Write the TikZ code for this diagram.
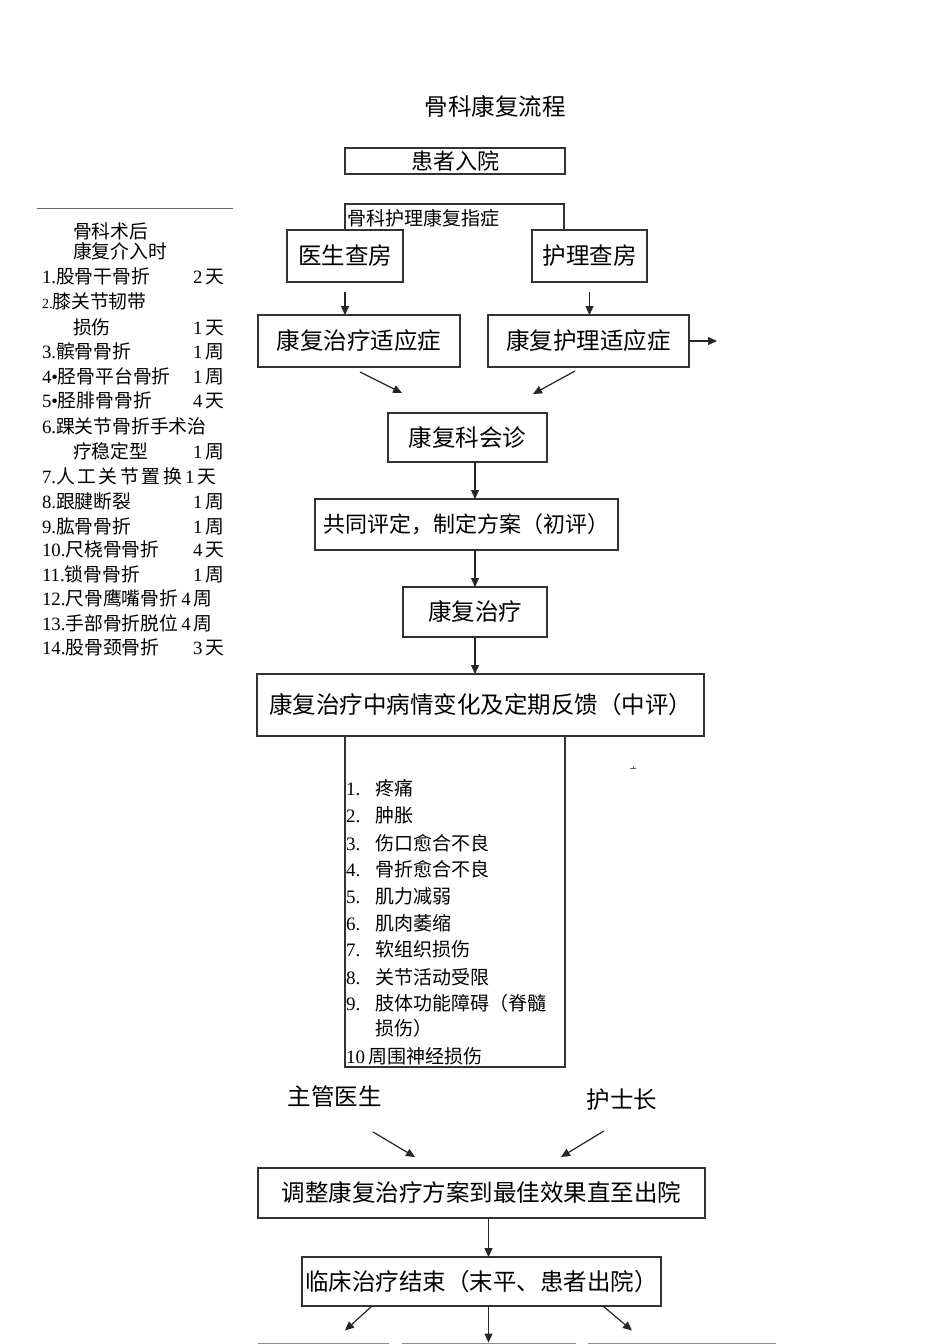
\documentclass[tikz,border=0pt]{standalone}
\usepackage{fontspec}
\setmainfont{Noto Sans CJK SC}
\newfontfamily\lat{Liberation Serif}
\usetikzlibrary{arrows.meta,calc}
\tikzset{
  bx/.style={draw=black!80, line width=1.1pt, inner sep=0pt, outer sep=0pt, align=center},
  fA/.style={font=\fontsize{23.5}{26}\selectfont, text height=20.5pt, text depth=3pt},
  fE/.style={font=\fontsize{22}{26}\selectfont, text height=19.2pt, text depth=2.8pt},
  fB/.style={font=\fontsize{19}{22}\selectfont, text height=16.5pt, text depth=2.5pt},
  fC/.style={font=\fontsize{18.8}{20}\selectfont, text height=16.3pt, text depth=2.5pt},
  txt/.style={inner sep=0pt, outer sep=0pt, anchor=west},
  arr/.style={-{Triangle[length=9pt,width=8pt]}, line width=1.2pt, black!85},
  frame/.style={draw=black!80, line width=1.1pt},
  lower/.style={draw=black!45, line width=1pt, inner sep=0pt, minimum height=40},
}
\begin{document}
\begin{tikzpicture}[x=1pt,y=-1pt]
\path[use as bounding box, clip] (0,0) rectangle (950,1344);
\fill[white] (0,0) rectangle (950,1344);

% title
\node[fA, inner sep=0pt] (title) at (495,107) {骨科康复流程};

% top flow
\node[bx,fE,minimum width=220,minimum height=26] (admit) at (455,161) {患者入院};
\node[bx,fA,minimum width=116,minimum height=52] (doc) at (345,256) {医生查房};
\node[bx,fA,minimum width=115,minimum height=52] (nur) at (589.5,256) {护理查房};
\draw[frame] (345,230) -- (345,204) -- (564,204) -- (564,230);
\node[txt,fB] (indic) at (347,218) {骨科护理康复指症};

\node[bx,fA,minimum width=202,minimum height=52] (rtind) at (359,341) {康复治疗适应症};
\node[bx,fA,minimum width=201,minimum height=52] (rnind) at (588.5,341) {康复护理适应症};
\coordinate (rnout) at (717,341);

\node[bx,fA,minimum width=159,minimum height=49] (consult) at (467.5,437.5) {康复科会诊};
\node[bx,fE,minimum width=303,minimum height=51] (eval) at (466.5,524.5) {共同评定，制定方案（初评）};
\node[bx,fA,minimum width=144,minimum height=50] (rehab) at (475,612) {康复治疗};
\node[bx,fA,minimum width=447,minimum height=62] (change) at (480.5,705) {康复治疗中病情变化及定期反馈（中评）};

% arrows top part
\draw[arr, shorten <=10pt] (doc.south) -- (doc.south |- rtind.north);
\draw[arr, shorten <=10pt] (nur.south) -- (nur.south |- rnind.north);
\draw[arr] (rnind.east) -- (rnout);
\draw[arr] ($(rtind.south)+(1,5)$) -- ($(consult.north west)+(14,-20)$);
\draw[arr] ($(rnind.south)+(-13.5,4)$) -- ($(consult.north east)+(-14,-19)$);
\draw[arr] (rehab.center |- consult.south) -- (rehab.center |- eval.north);
\draw[arr] (rehab.center |- eval.south) -- (rehab.north);
\draw[arr] (rehab.south) -- (rehab.south |- change.north);

% list box
\draw[frame] (345,736) -- (345,1067) -- (565,1067) -- (565,736);
\draw[black!60, line width=0.8pt] (630,768) -- (636,768) (633,766) -- (633,768);
\foreach \n/\y/\t in {1/788/疼痛, 2/815/肿胀, 3/843/伤口愈合不良, 4/869/骨折愈合不良,
  5/896/肌力减弱, 6/923/肌肉萎缩, 7/949/软组织损伤, 8/977/关节活动受限,
  9/1003/肢体功能障碍（脊髓}{
  \node[txt,fB] (n\n) at (346,\y) {\lat \n.};
  \node[txt,fB] (s\n) at (375,\y) {\t};
}
\node[txt,fB] (s9b) at (375,1028) {损伤）};
\node[txt,fB] (n10) at (346,1056) {{\lat 10}\hspace{3pt}周围神经损伤};

% lower flow
\node[fA, inner sep=0pt] (mgr) at (334.5,1097) {主管医生};
\node[fA, inner sep=0pt] (hsz) at (622,1100) {护士长};
\node[bx,fA,minimum width=447,minimum height=50] (adjust) at (481.5,1193) {调整康复治疗方案到最佳效果直至出院};
\node[bx,fA,minimum width=359,minimum height=49] (end) at (481.5,1281.5) {临床治疗结束（末平、患者出院）};
\node[lower,minimum width=130] (b1) at (323,1363) {};
\node[lower,minimum width=173] (b2) at (488.5,1363) {};
\node[lower,minimum width=187] (b3) at (681.5,1363) {};

\draw[arr] ($(mgr.south)+(38.5,23)$) -- ($(adjust.north west)+(157,-11)$);
\draw[arr] ($(hsz.south)+(-18,19)$) -- ($(adjust.north east)+(-144,-11)$);
\draw[arr] (b2.north |- adjust.south) -- (b2.north |- end.north);
\draw[arr] ($(end.south west)+(70,0)$) -- ($(b1.north)+(22,-12)$);
\draw[arr] (b2.north |- end.south) -- (b2.north);
\draw[arr] ($(end.south east)+(-58,0)$) -- ($(b3.north)+(-49.5,-12)$);

% left column
\draw[black!60, line width=1pt] (37,208) -- (233,208);
\begin{scope}
\clip (30,200) rectangle (245,656);
\node[txt,fC] (l0a) at (73,232) {骨科术后};
\node[txt,fC] (l0b) at (73,252) {康复介入时};
\node[txt,fC] (l1) at (42,277) {{\lat 1.}股骨干骨折};
\node[txt,fC] (d1) at (193,277) {{\lat 2\,}天};
\node[txt,fC] (l2) at (42,302) {{\lat\fontsize{14}{14}\selectfont 2.}膝关节韧带};
\node[txt,fC] (l2b) at (73,328) {损伤};
\node[txt,fC] (d2) at (193,328) {{\lat 1\,}天};
\node[txt,fC] (l3) at (42,352) {{\lat 3.}髌骨骨折};
\node[txt,fC] (d3) at (193,352) {{\lat 1\,}周};
\node[txt,fC] (l4) at (42,377) {{\lat 4•}胫骨平台骨折};
\node[txt,fC] (d4) at (193,377) {{\lat 1\,}周};
\node[txt,fC] (l5) at (42,401) {{\lat 5•}胫腓骨骨折};
\node[txt,fC] (d5) at (193,401) {{\lat 4\,}天};
\node[txt,fC] (l6) at (42,427) {{\lat 6.}踝关节骨折手术治};
\node[txt,fC] (l6b) at (73,452) {疗稳定型};
\node[txt,fC] (d6) at (193,452) {{\lat 1\,}周};
\node[txt,fC] (l7) at (42,477) {{\lat 7.}{\addfontfeature{LetterSpace=14}人工关节置换}{\lat\,1\,}天};
\node[txt,fC] (l8) at (42,502) {{\lat 8.}跟腱断裂};
\node[txt,fC] (d8) at (193,502) {{\lat 1\,}周};
\node[txt,fC] (l9) at (42,527) {{\lat 9.}肱骨骨折};
\node[txt,fC] (d9) at (193,527) {{\lat 1\,}周};
\node[txt,fC] (l10) at (42,550) {{\lat 10.}尺桡骨骨折};
\node[txt,fC] (d10) at (193,550) {{\lat 4\,}天};
\node[txt,fC] (l11) at (42,575) {{\lat 11.}锁骨骨折};
\node[txt,fC] (d11) at (193,575) {{\lat 1\,}周};
\node[txt,fC] (l12) at (42,599) {{\lat 12.}尺骨鹰嘴骨折{\lat\,4\,}周};
\node[txt,fC] (l13) at (42,624) {{\lat 13.}手部骨折脱位{\lat\,4\,}周};
\node[txt,fC] (l14) at (42,648) {{\lat 14.}股骨颈骨折};
\node[txt,fC] (d14) at (193,648) {{\lat 3\,}天};
\end{scope}
\end{tikzpicture}
\end{document}
